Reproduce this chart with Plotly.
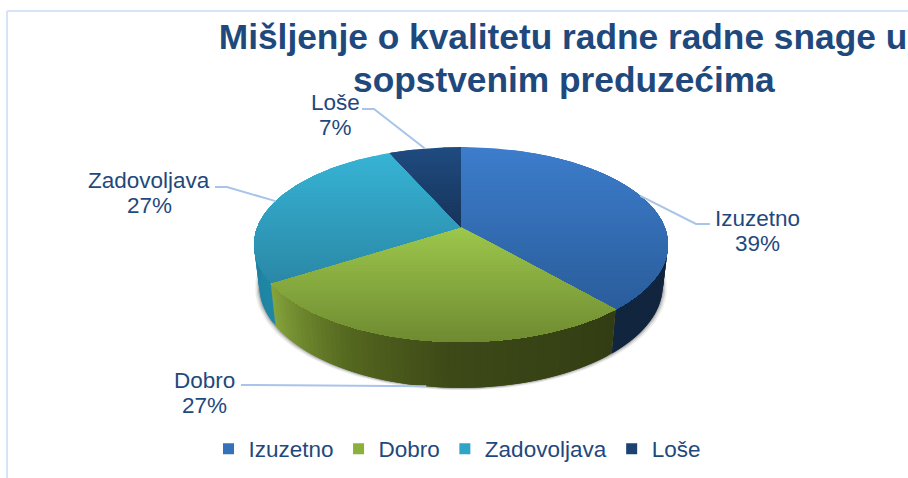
import numpy as np
import plotly.graph_objects as go

categories = ["Izuzetno", "Dobro", "Zadovoljava", "Loše"]
values = [38.6, 27.4, 27.3, 6.7]
title_lines = ["Mišljenje o kvalitetu radne radne snage u", "sopstvenim preduzećima"]

legend_colors = ["#3571bb", "#8bb03e", "#30a4c6", "#1c4274"]
top_stops = [("#3d7dcc", "#2a5d9b"), ("#9dc74c", "#6e8a31"), ("#37b3d5", "#2b88a6"), ("#204b80", "#16345a")]
wall_stops = [[(0, "#12253f"), (1, "#12253f")],
              [(0, "#333d14"), (0.45, "#3e4a18"), (0.7, "#55681f"), (1, "#86a53d")],
              [(0, "#1f88a5"), (1, "#1f80a0")],
              [(0, "#12253f"), (1, "#12253f")]]
# label layout: text centre x, first line y, elbow x, elbow y
label_layout = [(757, 218, 710, 224), (204, 380, 241, 385), (149, 180, 215, 187), (335, 102, 362, 109)]

TEXT = "#1f497d"
FONT = "Liberation Sans"
CX, CY, RX, RY, P = 461.0, 227.0, 203.6, 94.4, 0.18
BOTTOM_XS, BOTTOM_YS, BOTTOM_DY = 0.975, 1.05, 40.0


def proj(theta, bottom=False):
    w = 1 + P * np.cos(theta)
    x = RX * np.sin(theta) / w
    y = -RY * np.cos(theta) / w
    if bottom:
        return CX + x * BOTTOM_XS, CY + y * BOTTOM_YS + BOTTOM_DY
    return CX + x, CY + y


def clip_below(px, py, y0):
    """Keep the part of a polygon with y >= y0 (screen-style y)."""
    ox, oy = [], []
    n = len(px)
    for i in range(n):
        x1, y1, x2, y2 = px[i], py[i], px[(i + 1) % n], py[(i + 1) % n]
        if y1 >= y0:
            ox.append(x1); oy.append(y1)
        if (y1 >= y0) != (y2 >= y0):
            t = (y0 - y1) / (y2 - y1)
            ox.append(x1 + t * (x2 - x1)); oy.append(y0)
    return ox, oy


def hex2rgb(c):
    return np.array([int(c[i:i + 2], 16) for i in (1, 3, 5)], float)


def mix(a, b, t):
    v = hex2rgb(a) * (1 - t) + hex2rgb(b) * t
    return "rgb(%d,%d,%d)" % tuple(v)


def ramp(stops, t):
    for (t0, c0), (t1, c1) in zip(stops, stops[1:]):
        if t <= t1:
            return mix(c0, c1, (t - t0) / max(t1 - t0, 1e-6))
    return stops[-1][1]


def poly(x, y, color):
    return go.Scatter(x=list(x) + [x[0]], y=list(y) + [y[0]], mode="lines", fill="toself",
                      fillcolor=color, line=dict(width=0, color=color),
                      showlegend=False, hoverinfo="skip")


fig = go.Figure()
total = sum(values)
edges = 2 * np.pi * np.cumsum([0] + values) / total

# soft shadow below the rim
ring = np.linspace(0, 2 * np.pi, 200)
for grow, alpha in ((4, 0.10), (2.5, 0.16), (1.2, 0.25)):
    bx, by = proj(ring, True)
    bx = CX + (bx - CX) * (1 + grow / 200)
    by = by + grow * 0.6
    fig.add_trace(poly(bx, by, "rgba(70,70,70,%.2f)" % alpha))

# side walls
for i in range(len(values)):
    a0, a1 = max(edges[i], np.pi / 2), min(edges[i + 1], 3 * np.pi / 2)
    if a1 <= a0:
        continue
    n = max(2, int(np.degrees(a1 - a0) / 1.5))
    t = np.linspace(a0, a1, n + 1)
    for k in range(n):
        th = np.linspace(t[k], t[min(k + 2, n)], 4)
        tx, ty = proj(th)
        bx, by = proj(th, True)
        f = (k + 0.5) / n
        fig.add_trace(poly(np.r_[tx, bx[::-1]], np.r_[ty, by[::-1]], ramp(wall_stops[i], f)))

# top faces with a vertical gradient
for i in range(len(values)):
    th = np.linspace(edges[i], edges[i + 1], 120)
    ax, ay = proj(th)
    px = np.r_[CX, ax].tolist()
    py = np.r_[CY, ay].tolist()
    y0, y1 = min(py), max(py)
    bands = int((y1 - y0) / 3) + 1
    for k in range(bands):
        yk = y0 + (y1 - y0) * k / bands
        cx_, cy_ = clip_below(px, py, yk) if k else (px, py)
        if len(cx_) > 2:
            fig.add_trace(poly(cx_, cy_, mix(*top_stops[i], k / bands)))

# leader lines and labels
mids = (edges[:-1] + edges[1:]) / 2
for i, name in enumerate(categories):
    lx, ly, ex, ey = label_layout[i]
    front = np.cos(mids[i]) < -0.9
    ax, ay = proj(mids[i], bottom=front)
    xs = [ex, ax] if front else [ex, ex + (12 if ex < ax else -14), ax]
    ys = [ey, ay] if front else [ey, ey, ay]
    fig.add_trace(go.Scatter(x=xs, y=ys, mode="lines", line=dict(color="#a9c4ea", width=2),
                             showlegend=False, hoverinfo="skip"))
    pct = f"{round(100 * values[i] / total)}%"
    for text, y in ((name, ly), (pct, ly + 25)):
        fig.add_annotation(x=lx, y=y, text=text, showarrow=False, xanchor="center", yanchor="middle",
                           font=dict(family=FONT, size=22.5, color=TEXT))

# legend entries
for name, c in zip(categories, legend_colors):
    fig.add_trace(go.Scatter(x=[None], y=[None], mode="markers", name=name,
                             marker=dict(symbol="square", size=11, color=c)))

fig.add_annotation(x=564, y=79, yanchor="middle", text=title_lines[1], showarrow=False,
                   font=dict(family=FONT, size=35.3, color=TEXT, weight="bold"))
fig.update_layout(
    width=908, height=478, autosize=False,
    margin=dict(l=0, r=0, t=0, b=0),
    paper_bgcolor="white", plot_bgcolor="white",
    title=dict(text=title_lines[0], x=563 / 908, xanchor="center", xref="paper",
               y=1 - 37 / 478, yanchor="middle", font=dict(family=FONT, size=35.3, color=TEXT, weight="bold")),
    xaxis=dict(range=[0, 908], visible=False, fixedrange=True),
    yaxis=dict(range=[478, 0], visible=False, fixedrange=True),
    legend=dict(orientation="h", x=457 / 908, xanchor="center", y=1 - 449 / 478, yanchor="middle",
                font=dict(family=FONT, size=22.5, color=TEXT), bgcolor="rgba(0,0,0,0)", itemclick=False),
    shapes=[dict(type="line", xref="x", yref="y", x0=7, x1=7, y0=11, y1=478, line=dict(color="#d6e4f8", width=2)),
            dict(type="line", xref="x", yref="y", x0=7, x1=908, y0=11, y1=11, line=dict(color="#d6e4f8", width=2))],
)
fig.write_html("out.html", config={"displayModeBar": False},
               post_script="document.body.style.margin='0';document.body.style.overflow='hidden';")
